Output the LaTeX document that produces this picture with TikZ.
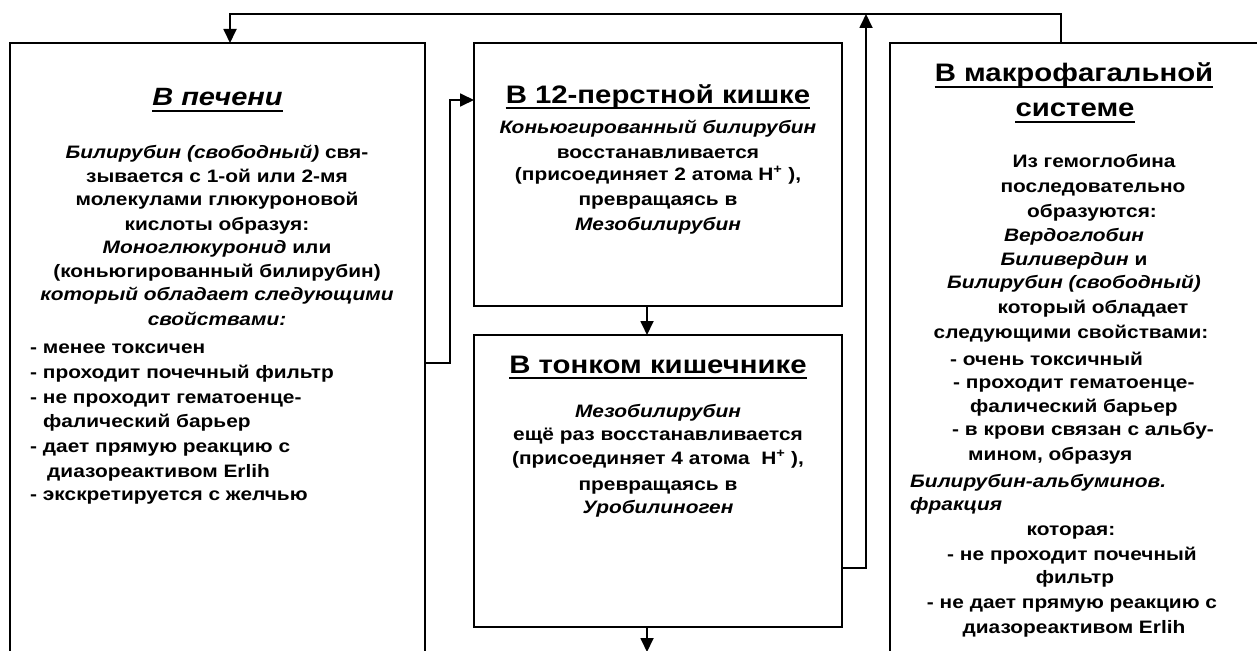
\documentclass[tikz,border=0pt]{standalone}
\usepackage{fontspec}
\setmainfont{Liberation Sans}[FakeStretch=1.16]
\usetikzlibrary{arrows.meta}
\begin{document}
\begin{tikzpicture}[x=1pt,y=-1pt,
  box/.style={draw, line width=2pt, inner sep=0pt, outer sep=0pt, anchor=north west},
  conn/.style={line width=1.8pt},
  arr/.style={conn, -{Triangle[width=13pt,length=14pt]}},
  body/.style={font=\bfseries\fontsize{18}{22}\selectfont, inner sep=0pt, anchor=base},
  bodyL/.style={body, anchor=base west},
  head/.style={font=\bfseries\fontsize{25.3}{30}\selectfont, inner sep=0pt, anchor=base},
  uline/.style={line width=2.6pt},
]
\useasboundingbox (0,0) rectangle (1257,650);
\clip (0,0) rectangle (1257,650);

% the four stages
\node[box, minimum width=415pt, minimum height=700pt] (liver) at (10,43) {};
\node[box, minimum width=368pt, minimum height=263pt] (duo) at (474,43) {};
\node[box, minimum width=368pt, minimum height=292pt] (small) at (474,335) {};
\node[box, minimum width=420pt, minimum height=700pt] (macro) at (890,43) {};

% connectors
\coordinate (ret) at (600,14);
\draw[arr] ([xshift=171pt]macro.north west) |- (ret) -| ([xshift=220pt]liver.north west);
\coordinate (lvOut) at (0,363);
\coordinate (bendA) at (450,100);
\draw[arr] (liver.east |- lvOut) -| (bendA) -- (duo.west |- bendA);
\draw[arr] ([xshift=-11pt]duo.south) -- ([xshift=-11pt]small.north);
\coordinate (smOut) at (0,568);
\coordinate (upTip) at (866,14);
\draw[arr] (small.east |- smOut) -| (upTip);
\coordinate (exit) at (647,652);
\draw[arr] ([xshift=-11pt]small.south) -- (exit);

% liver
\node[head, font=\bfseries\itshape\fontsize{25}{30}\selectfont] (tL) at (217.5,106) {В печени};
\draw[uline] ([yshift=-5pt]tL.base west) -- ([yshift=-5pt]tL.base east);
\node[body] (l1) at (217,158) {\textit{Билирубин (свободный)} свя-};
\node[body] (l2) at (217,182) {зывается с 1-ой или 2-мя};
\node[body] (l3) at (217,205) {молекулами глюкуроновой};
\node[body] (l4) at (217,230) {кислоты образуя:};
\node[body] (l5) at (217,253) {\textit{Моноглюкуронид} или};
\node[body] (l6) at (217,277) {(коньюгированный билирубин)};
\node[body] (l7) at (217,300) {\textit{который обладает следующими}};
\node[body] (l8) at (217,325) {\textit{свойствами:}};
\node[bodyL] (l9) at (30,353) {- менее токсичен};
\node[bodyL] (l10) at (30,378) {- проходит почечный фильтр};
\node[bodyL] (l11) at (30,403) {- не проходит гематоенце-};
\node[bodyL] (l12) at (43,427) {фалический барьер};
\node[bodyL] (l13) at (30,452) {- дает прямую реакцию с};
\node[bodyL] (l14) at (47,477) {диазореактивом Erlih};
\node[bodyL] (l15) at (30,500) {- экскретируется с желчью};

% duodenum
\node[head] (tD) at (658,104) {В 12-перстной кишке};
\draw[uline] ([yshift=-4pt]tD.base west) -- ([yshift=-4pt]tD.base east);
\node[body] (d1) at (658,133) {\textit{Коньюгированный билирубин}};
\node[body] (d2) at (658,158) {восстанавливается};
\node[body] (d3) at (658,180) {(присоединяет 2 атома H\textsuperscript{+} ),};
\node[body] (d4) at (658,205) {превращаясь в};
\node[body] (d5) at (658,230) {\textit{Мезобилирубин}};

% small intestine
\node[head] (tS) at (658,373) {В тонком кишечнике};
\draw[uline] ([yshift=-5pt]tS.base west) -- ([yshift=-5pt]tS.base east);
\node[body] (s1) at (658,417) {\textit{Мезобилирубин}};
\node[body] (s2) at (658,440) {ещё раз восстанавливается};
\node[body] (s3) at (658,464) {(присоединяет 4 атома~~H\textsuperscript{+} ),};
\node[body] (s4) at (658,490) {превращаясь в};
\node[body] (s5) at (658,513) {\textit{Уробилиноген}};

% macrophage system
\node[head] (tM1) at (1074,82) {В макрофагальной};
\draw[uline] ([yshift=-5pt]tM1.base west) -- ([yshift=-5pt]tM1.base east);
\node[head] (tM2) at (1075,117) {системе};
\draw[uline] ([yshift=-5pt]tM2.base west) -- ([yshift=-5pt]tM2.base east);
\node[body] (m1) at (1094,167) {Из гемоглобина};
\node[body] (m2) at (1093,192) {последовательно};
\node[body] (m3) at (1092,217) {образуются:};
\node[body] (m4) at (1074,241) {\textit{Вердоглобин}};
\node[body] (m5) at (1074,265) {\textit{Биливердин} и};
\node[body] (m6) at (1074,288) {\textit{Билирубин (свободный)}};
\node[body] (m7) at (1093,313) {который обладает};
\node[body] (m8) at (1071,338) {следующими свойствами:};
\node[bodyL] (m9) at (950,365) {- очень токсичный};
\node[bodyL] (m10) at (953,388) {- проходит гематоенце-};
\node[bodyL] (m11) at (970,412) {фалический барьер};
\node[bodyL] (m12) at (952,435) {- в крови связан с альбу-};
\node[bodyL] (m13) at (968,460) {мином, образуя};
\node[bodyL] (m14) at (910,487) {\textit{Билирубин-альбуминов.}};
\node[bodyL] (m15) at (910,510) {\textit{фракция}};
\node[body] (m16) at (1071,535) {которая:};
\node[body] (m17) at (1072,560) {- не проходит почечный};
\node[body] (m18) at (1075,583) {фильтр};
\node[body] (m19) at (1072,608) {- не дает прямую реакцию с};
\node[body] (m20) at (1074,633) {диазореактивом Erlih};
\end{tikzpicture}
\end{document}
